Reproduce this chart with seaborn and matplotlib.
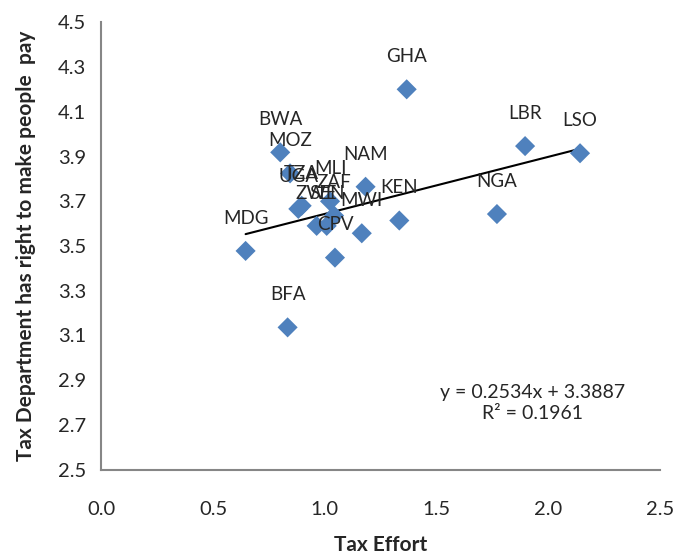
import pandas as pd
import matplotlib
matplotlib.use("Agg")
import matplotlib.pyplot as plt
import seaborn as sns

# values
countries = ["GHA", "LBR", "LSO", "NGA", "KEN", "NAM", "MWI", "CPV", "MDG",
             "BFA", "BWA", "MOZ", "UGA", "TZA", "MLI", "ZAF", "ZWE", "SEN"]
tax_effort = [1.366, 1.896, 2.142, 1.770, 1.333, 1.182, 1.165, 1.045, 0.645,
              0.833, 0.800, 0.844, 0.881, 0.896, 1.023, 1.041, 0.963, 1.008]
tax_right = [4.201, 3.947, 3.915, 3.643, 3.614, 3.765, 3.557, 3.448, 3.478,
             3.136, 3.919, 3.825, 3.666, 3.680, 3.700, 3.636, 3.590, 3.590]
x_ticks = [0.0, 0.5, 1.0, 1.5, 2.0, 2.5]
y_ticks = [2.5, 2.7, 2.9, 3.1, 3.3, 3.5, 3.7, 3.9, 4.1, 4.3, 4.5]

df = pd.DataFrame({"country": countries, "effort": tax_effort, "right": tax_right})

sns.set_style("white")
plt.rcParams["font.family"] = ["Lato", "DejaVu Sans"]

fig = plt.figure(figsize=(6.78, 5.55), dpi=100)
ax = fig.add_axes([0.1497, 0.154, 0.8238, 0.8055])

# trend line
sns.regplot(x="effort", y="right", data=df, scatter=False, ci=None, ax=ax,
            line_kws={"color": "black", "linewidth": 1.5})
sns.scatterplot(x="effort", y="right", data=df, marker="D", s=105,
                color="#4F81BD", edgecolor="none", ax=ax, zorder=3)

for c, xv, yv in zip(countries, tax_effort, tax_right):
    ax.annotate(c, (xv, yv), xytext=(0, 23.5), textcoords="offset points",
                ha="center", va="center", fontsize=13.5, zorder=4)

ax.text(1.93, 2.797, "y = 0.2534x + 3.3887\nR² = 0.1961", ha="center",
        va="center", multialignment="center", fontsize=14, linespacing=1.3)

ax.set_xlim(0, 2.5)
ax.set_ylim(2.5, 4.5)
ax.set_xticks(x_ticks)
ax.set_xticklabels([f"{v:.1f}" for v in x_ticks])
ax.set_yticks(y_ticks)
ax.set_yticklabels([f"{v:.1f}" for v in y_ticks])

sns.despine(ax=ax)
for s in ["left", "bottom"]:
    ax.spines[s].set_color("#868686")
    ax.spines[s].set_linewidth(1.5)
ax.tick_params(axis="both", direction="out", length=5, width=1.5,
               color="#868686", labelsize=14.5, pad=6)
ax.tick_params(axis="x", pad=18)

ax.set_xlabel("Tax Effort", fontsize=15, fontweight="bold", labelpad=12)
ax.set_ylabel("Tax Department has right to make people  pay", fontsize=15,
              fontweight="bold", labelpad=16)

fig.savefig("out.png", dpi=100)
